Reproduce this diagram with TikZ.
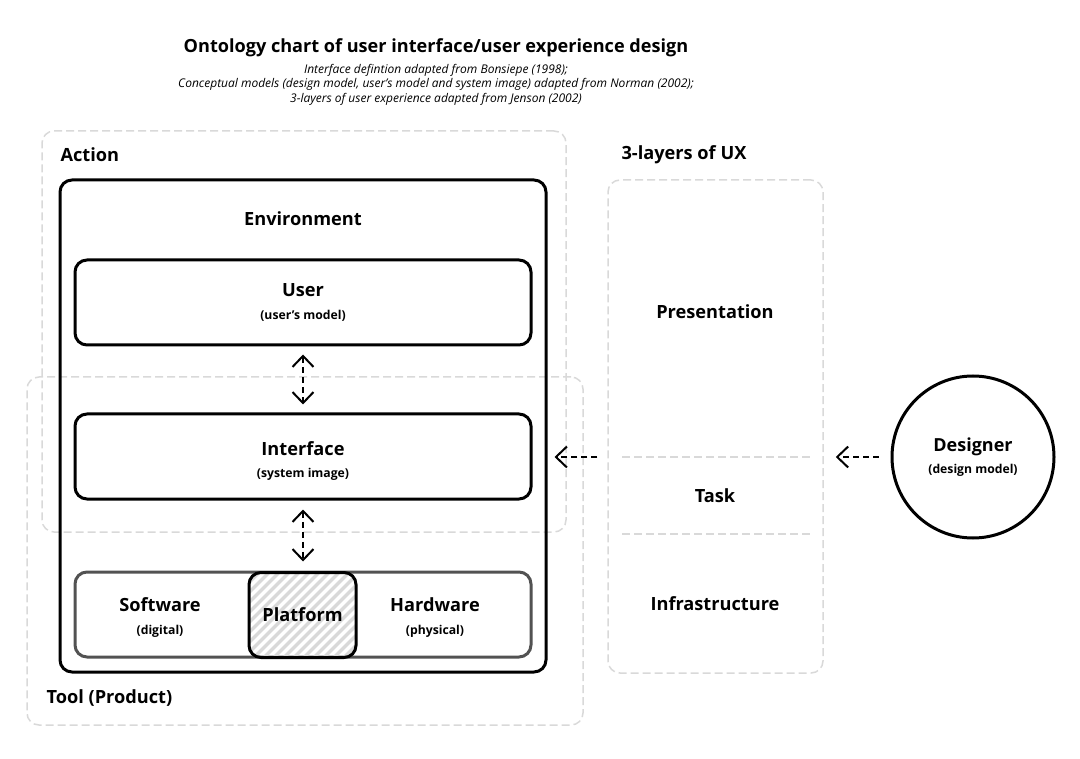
\documentclass[tikz,border=0pt]{standalone}
\usepackage{fontspec}
\setmainfont{Open Sans}
\usetikzlibrary{positioning, arrows.meta}

\begin{document}
\begin{tikzpicture}[x=1pt, y=-1pt, node distance=25pt, auto]
% Définition des styles
    \tikzstyle{zone} = [draw=black!15, line width=1.5pt, dash pattern=on 8pt off 4pt, rounded corners=12pt]
    \tikzstyle{block} = [rectangle, draw, line width=3pt, rounded corners=12pt, minimum width=456pt, minimum height=85pt, inner sep=0pt, align=center, font=\fontsize{18.2}{21}\selectfont\bfseries]
    \tikzstyle{titre} = [font=\fontsize{18.2}{21}\selectfont\bfseries]
    \tikzstyle{sous} = [font=\fontsize{12.2}{14}\selectfont\bfseries]
    \tikzstyle{fleche} = [draw, line width=2pt, dash pattern=on 6pt off 4pt, -{Straight Barb[length=11pt, width=21pt]}]
    \tikzstyle{dfleche} = [fleche, {Straight Barb[length=11pt, width=21pt]}-{Straight Barb[length=11pt, width=21pt]}]
    \tikzstyle{hachure} = [draw=black!15, line width=3.5pt]

    \useasboundingbox (0,0) rectangle (1080,759);

    % Titre
    \node[font=\fontsize{18.1}{22}\selectfont\bfseries] (title) at (436,47.5) {Ontology chart of user interface/user experience design};
    \node[align=center, font=\fontsize{12}{14.5}\selectfont\itshape] (source) at (436,84.5) {Interface defintion adapted from Bonsiepe (1998);\\Conceptual models (design model, user's model and system image) adapted from Norman (2002);\\3-layers of user experience adapted from Jenson (2002)};

    % Zones en pointillés
    \node[zone, minimum width=524pt, minimum height=401pt] (action) at (304,331.5) {};
    \node[zone, minimum width=556pt, minimum height=348pt] (tool) at (305,551) {};
    \node[zone, minimum width=215pt, minimum height=493pt] (ux) at (715.5,426.5) {};
    \node[titre, anchor=west] (actionlabel) at (57,155) {Action};
    \node[titre, anchor=west] (toollabel) at (43,698) {Tool (Product)};
    \node[titre, anchor=west] (uxlabel) at (618,155) {3-layers of UX};

    % Environnement et ses blocs
    \node[block, minimum width=486pt, minimum height=492pt] (env) at (303,426) {};
    \node[titre] (envlabel) at (303,219) {Environment};
    \node[block] (user) at (303,302.5) {User\\[2pt]{\fontsize{12.2}{14}\selectfont (user's model)}};
    \node[block] (interface) at (303,456.5) {\rule{0pt}{23pt}Interface\\[1pt]{\fontsize{12.2}{14}\selectfont (system image)}};
    \node[block, draw=black!68] (base) at (303,614.5) {};
    \node[block, minimum width=107pt, path picture={
        \foreach \k in {0,...,20}
            \draw[hachure] ([xshift=\k*10pt-95pt]path picture bounding box.south west) -- ++(100,-100);
    }] (platform) at (302.5,615) {Platform};
    \node[titre] (software) at (160,605) {Software};
    \node[sous, below=26pt of software.center, anchor=center] (digital) {(digital)};
    \node[titre] (hardware) at (435,605) {Hardware};
    \node[sous, below=26pt of hardware.center, anchor=center] (physical) {(physical)};

    % Couches UX
    \node[titre] (presentation) at (715,312) {Presentation};
    \node[titre] (task) at (715,496) {Task};
    \node[titre] (infra) at (715,604) {Infrastructure};
    \draw[zone] (622,457) -- (810,457);
    \draw[zone] (622,534) -- (810,534);

    % Designer
    \node[circle, draw, line width=3pt, minimum size=162pt, inner sep=0pt, align=center, font=\fontsize{18}{21}\selectfont\bfseries] (designer) at (973,457) {Designer\\[1pt]{\fontsize{12.2}{14}\selectfont (design model)}};

    % Connexions
    \path[dfleche, shorten <=8pt, shorten >=8pt] (user) -- (interface);
    \path[dfleche, shorten <=9pt, shorten >=9pt] (interface) -- (base);
    \path[fleche, shorten <=12pt, shorten >=12pt] (designer) -- (ux.east |- designer.center);
    \path[fleche, shorten <=10pt, shorten >=7pt] (ux.west |- designer.center) -- (env.east |- designer.center);
\end{tikzpicture}
\end{document}
